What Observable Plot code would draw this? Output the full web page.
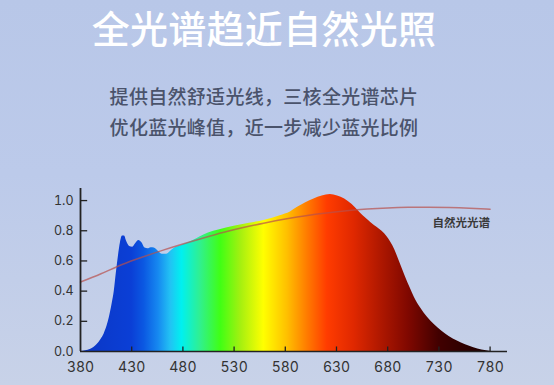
<!DOCTYPE html>
<html>
<head>
<meta charset="utf-8">
<script src="https://cdn.jsdelivr.net/npm/d3@7"></script>
<script src="https://cdn.jsdelivr.net/npm/@observablehq/plot@0.6"></script>
<style>
  html, body { margin: 0; padding: 0; }
  body { width: 554px; height: 385px; overflow: hidden;
         background: linear-gradient(180deg, #b8c7e8 0%, #bccaea 45%, #c8d2e8 100%);
         font-family: "Noto Sans CJK SC", "Noto Sans", sans-serif; }
  #wrap { position: relative; width: 554px; height: 385px; }
  #title { position: absolute; left: 0; width: 528px; top: 5px; text-align: center;
           color: #ffffff; font-size: 38px; font-weight: 500; line-height: 44px; letter-spacing: 0.3px; }
  #sub { position: absolute; left: 0; width: 528px; top: 80px; text-align: center;
         color: #4a536b; font-size: 19px; line-height: 31px; font-weight: 500; letter-spacing: 0.3px; }
  #chart { position: absolute; left: 0; top: 170px; }
</style>
</head>
<body>
<div id="wrap">
  <div id="title"></div>
  <div id="sub"></div>
  <div id="chart"></div>
</div>
<script>
const titleText = "全光谱趋近自然光照";
const subtitleLines = ["提供自然舒适光线，三核全光谱芯片", "优化蓝光峰值，近一步减少蓝光比例"];
const seriesLabel = "自然光光谱";

// LED full-spectrum curve (wavelength nm, relative intensity)
const specWavelength = [380,385,390,396,400,403,406,408,411,413,415,417,419,421,423,425,428,431,434,437,440,443,446,449,452,456,460,464,468,472,478,485,490,497,505,515,530,545,560,575,585,592,600,608,616,624,631,638,645,651,656,661,667,672,677,681,685,689,693,697,702,706,712,719,726,733,740,748,756,764,772,781];
const specValue = [0.0,0.005,0.015,0.045,0.08,0.115,0.17,0.22,0.32,0.40,0.52,0.63,0.72,0.765,0.765,0.73,0.695,0.69,0.715,0.735,0.72,0.685,0.68,0.688,0.685,0.665,0.645,0.645,0.665,0.685,0.70,0.72,0.735,0.76,0.785,0.805,0.83,0.85,0.87,0.9,0.925,0.955,0.985,1.01,1.03,1.04,1.03,1.01,0.975,0.935,0.9,0.87,0.835,0.81,0.78,0.745,0.70,0.64,0.57,0.50,0.42,0.36,0.29,0.225,0.175,0.135,0.10,0.07,0.045,0.025,0.01,0.0];

// Natural light spectrum curve
const natWavelength = [380,400,420,440,460,480,500,520,540,560,580,600,620,640,660,680,700,720,740,760,780];
const natValue = [0.46,0.515,0.575,0.625,0.67,0.712,0.752,0.79,0.823,0.852,0.878,0.9,0.918,0.933,0.944,0.951,0.955,0.956,0.954,0.949,0.942];

const xTicks = [380,430,480,530,580,630,680,730,780];
const yTicks = [0,0.2,0.4,0.6,0.8,1.0];
const xDomain = [380, 797];
const yDomain = [0, 1.08];

// colour gradient stops (wavelength -> colour)
const gradWavelength = [380,430,442,456,468,479,497,517,537,559,582,602,621,647,673,700,730,781];
const gradColor = ["#0b36c4","#0b3fd6","#0b58e2","#1688f0","#22c2f4","#00f0f0","#30f090","#40ff14","#a6f010","#ffff00","#ffc000","#ff7a00","#ff3c00","#e02800","#b01800","#800800","#420000","#1a0000"];

document.getElementById("title").textContent = titleText;
document.getElementById("sub").innerHTML = subtitleLines.map(s => `<div>${s}</div>`).join("");

const spec = specWavelength.map((w, i) => ({w, v: specValue[i]}));
const nat = natWavelength.map((w, i) => ({w, v: natValue[i]}));

const axisColor = "#222";
const chart = Plot.plot({
  width: 554,
  height: 215,
  marginLeft: 80,
  marginRight: 47,
  marginTop: 18,
  marginBottom: 34,
  style: {background: "transparent", fontFamily: "Inter, 'Noto Sans', sans-serif", overflow: "visible"},
  x: {domain: xDomain, label: null},
  y: {domain: yDomain, label: null},
  marks: [
    Plot.areaY(spec, {x: "w", y: "v", fill: "url(#specGrad)", curve: "monotone-x"}),
    Plot.line(nat, {x: "w", y: "v", stroke: "#b8504c", strokeOpacity: 0.7, strokeWidth: 1.5, curve: "natural"}),
    Plot.text(nat, Plot.selectLast({x: "w", y: "v", text: () => seriesLabel, textAnchor: "end", dy: 14, fontSize: 11.5, fontWeight: 600, fill: "#3a3a3a", fontFamily: "'Noto Sans CJK SC', sans-serif"})),
    Plot.ruleY([0], {stroke: axisColor, strokeWidth: 1.6}),
    Plot.ruleX([xDomain[0]], {y1: yDomain[0], y2: yDomain[1], stroke: axisColor, strokeWidth: 1.8}),
    Plot.ruleX(xTicks.slice(1), {x: d => d, y1: 0, y2: 0.03, stroke: axisColor, strokeWidth: 1.3}),
    Plot.ruleY(yTicks.slice(1), {y: d => d, x1: xDomain[0], x2: xDomain[0] + 7, stroke: axisColor, strokeWidth: 1.3}),
    Plot.axisX({ticks: xTicks, tickSize: 0, tickPadding: 11, fontSize: 14, color: "#333", label: null, tickFormat: d => String(d)}),
    Plot.axisY({ticks: yTicks, tickSize: 0, tickPadding: 7, fontSize: 12.5, color: "#333", label: null, tickFormat: d => d.toFixed(1)})
  ]
});

// gradient definition mapped through the x scale
const xs = chart.scale("x");
const x0 = xs.apply(gradWavelength[0]);
const x1 = xs.apply(gradWavelength[gradWavelength.length - 1]);
const ns = "http://www.w3.org/2000/svg";
const defs = document.createElementNS(ns, "defs");
const lg = document.createElementNS(ns, "linearGradient");
lg.setAttribute("id", "specGrad");
lg.setAttribute("gradientUnits", "userSpaceOnUse");
lg.setAttribute("x1", x0); lg.setAttribute("x2", x1);
lg.setAttribute("y1", 0); lg.setAttribute("y2", 0);
gradWavelength.forEach((w, i) => {
  const st = document.createElementNS(ns, "stop");
  st.setAttribute("offset", (xs.apply(w) - x0) / (x1 - x0));
  st.setAttribute("stop-color", gradColor[i]);
  lg.appendChild(st);
});
defs.appendChild(lg);
chart.insertBefore(defs, chart.firstChild);

document.getElementById("chart").appendChild(chart);
</script>
</body>
</html>
